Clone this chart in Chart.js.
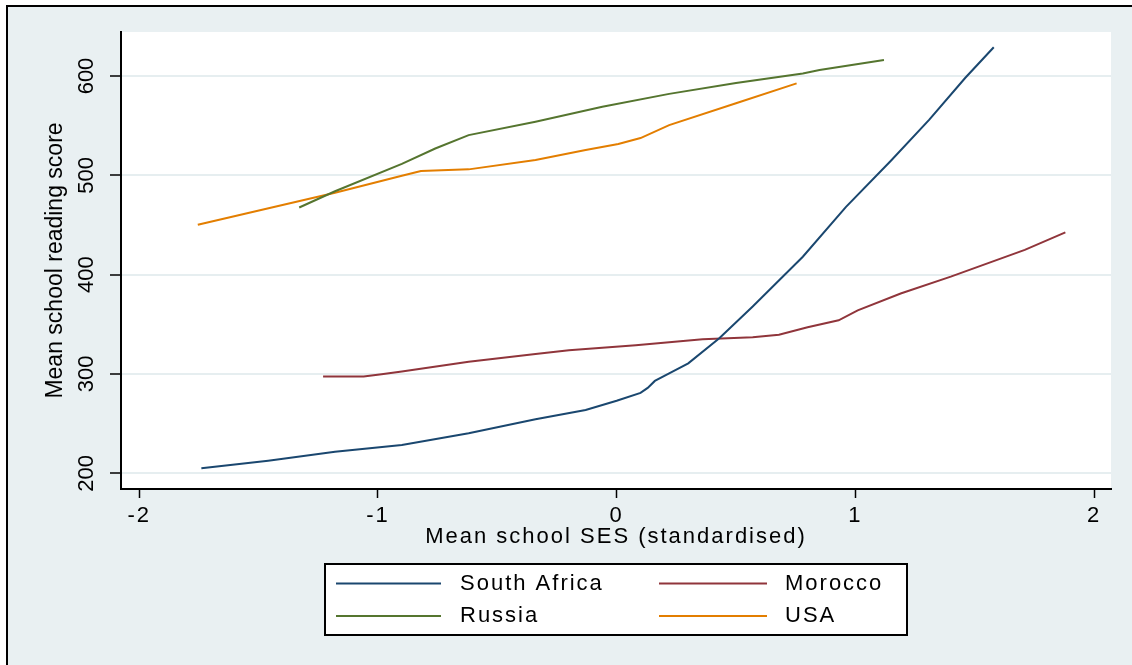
<!DOCTYPE html>
<html>
<head>
<meta charset="utf-8">
<title>Mean school reading score by mean school SES</title>
<script src="https://cdn.jsdelivr.net/npm/chart.js@4.4.1/dist/chart.umd.min.js"></script>
<style>
  html, body { margin: 0; padding: 0; background: #ffffff; }
  #wrap { width: 1132px; height: 665px; }
</style>
</head>
<body>
<div id="wrap"><canvas id="chart" width="1132" height="665"></canvas></div>
<script>
// Smoothed curves: mean school SES (x) against mean school reading score (y)
const seriesNames = ['South Africa', 'Morocco', 'Russia', 'USA'];

const southAfricaX = [-1.74, -1.46, -1.18, -0.90, -0.62, -0.34, -0.13, 0.00, 0.10, 0.13, 0.16, 0.22, 0.30, 0.43, 0.57, 0.78, 0.96, 1.15, 1.31, 1.46, 1.58];
const southAfricaY = [205, 212.7, 221.7, 228.5, 240.3, 254.4, 263.7, 273, 281, 286, 293, 300.7, 310.7, 336, 368, 418, 468, 515, 556, 598, 629];

const moroccoX = [-1.23, -1.06, -0.985, -0.90, -0.62, -0.34, -0.20, 0.08, 0.36, 0.57, 0.68, 0.80, 0.93, 1.01, 1.19, 1.40, 1.71, 1.88];
const moroccoY = [297.5, 297.5, 299.7, 302.5, 312.4, 320, 324, 329, 335, 337, 339.5, 347, 354, 364, 381, 398, 425, 442.6];

const russiaX = [-1.33, -1.18, -0.90, -0.76, -0.62, -0.34, -0.06, 0.22, 0.50, 0.78, 0.85, 1.12];
const russiaY = [467.6, 484, 511.5, 527, 540.5, 554, 569, 582, 593, 602.5, 606, 616];

const usaX = [-1.755, -1.18, -0.90, -0.82, -0.62, -0.34, -0.13, 0.007, 0.10, 0.22, 0.50, 0.754];
const usaY = [450.3, 482.5, 499.5, 504.3, 506, 515.4, 525.5, 531.5, 537.5, 550.6, 572.5, 592.6];

const xTickValues = [-2, -1, 0, 1, 2];
const xTickLabels = ['-2', '-1', '0', '1', '2'];
const yTickValues = [200, 300, 400, 500, 600];
const yTickLabels = ['200', '300', '400', '500', '600'];

const seriesColors = ['#1a476f', '#90353b', '#55752f', '#e37e00'];

const toPoints = (xs, ys) => xs.map((x, i) => ({ x: x, y: ys[i] }));
const seriesData = [
  toPoints(southAfricaX, southAfricaY),
  toPoints(moroccoX, moroccoY),
  toPoints(russiaX, russiaY),
  toPoints(usaX, usaY)
];

const FONT = '"Liberation Sans", Arial, Helvetica, sans-serif';
Chart.defaults.font.family = FONT;
Chart.defaults.color = '#000';

// Linear scale whose horizontal labels and title are drawn with wider tracking
const LinearScale = Chart.registry.getScale('linear');
class SpacedLinearScale extends LinearScale {
  withSpacing(fn) {
    const ctx = this.ctx;
    const prev = ctx.letterSpacing;
    ctx.letterSpacing = '2px';
    fn();
    ctx.letterSpacing = prev === undefined ? '0px' : prev;
  }
  drawLabels(area) { this.withSpacing(() => super.drawLabels(area)); }
  drawTitle() { this.withSpacing(() => super.drawTitle()); }
}
SpacedLinearScale.id = 'spacedLinear';
SpacedLinearScale.defaults = LinearScale.defaults;
Chart.register(SpacedLinearScale);

// Figure background, frame edge and white plot region
const backdrop = {
  id: 'backdrop',
  beforeDraw(chart) {
    const { ctx, width, height, chartArea: a } = chart;
    ctx.save();
    ctx.fillStyle = '#ffffff';
    ctx.fillRect(0, 0, width, height);
    ctx.fillStyle = '#e9f0f2';
    ctx.fillRect(7, 6, width - 7, height - 6);
    ctx.fillStyle = '#000000';
    ctx.fillRect(6, 5, width - 6, 2);
    ctx.fillRect(6, 5, 2, height - 5);
    ctx.fillStyle = '#ffffff';
    ctx.fillRect(a.left, a.top, a.right - a.left, a.bottom - a.top);
    ctx.restore();
  }
};

// Boxed two-column legend under the x axis title
const boxedLegend = {
  id: 'boxedLegend',
  afterDraw(chart) {
    const ctx = chart.ctx;
    const box = { x: 325, y: 564, w: 582, h: 71 };
    const rows = [583.5, 616];
    const cols = [
      { x0: 336, x1: 441, tx: 460 },
      { x0: 659, x1: 767, tx: 785 }
    ];
    ctx.save();
    ctx.fillStyle = '#ffffff';
    ctx.fillRect(box.x, box.y, box.w, box.h);
    ctx.strokeStyle = '#000000';
    ctx.lineWidth = 2;
    ctx.strokeRect(box.x, box.y, box.w, box.h);
    ctx.font = '22px ' + FONT;
    ctx.textBaseline = 'middle';
    ctx.textAlign = 'left';
    ctx.letterSpacing = '2px';
    chart.data.datasets.forEach((ds, i) => {
      const c = cols[i % 2];
      const y = rows[Math.floor(i / 2)];
      ctx.strokeStyle = ds.borderColor;
      ctx.lineWidth = 2;
      ctx.beginPath();
      ctx.moveTo(c.x0, y);
      ctx.lineTo(c.x1, y);
      ctx.stroke();
      ctx.fillStyle = '#000000';
      ctx.fillText(ds.label, c.tx, y);
    });
    ctx.restore();
  }
};

new Chart(document.getElementById('chart'), {
  type: 'scatter',
  data: {
    datasets: seriesNames.map((name, i) => ({
      label: name,
      data: seriesData[i],
      borderColor: seriesColors[i],
      backgroundColor: seriesColors[i],
      showLine: true,
      borderWidth: 2,
      pointRadius: 0,
      tension: 0
    }))
  },
  options: {
    responsive: false,
    animation: false,
    devicePixelRatio: 1,
    layout: { padding: { left: 0, right: 21, top: 32, bottom: 96 } },
    plugins: {
      legend: { display: false },
      tooltip: { enabled: false }
    },
    scales: {
      x: {
        type: 'spacedLinear',
        min: -2.0767,
        max: 2.0712,
        afterBuildTicks: s => { s.ticks = xTickValues.map(v => ({ value: v })); },
        afterFit: s => { s.height = 80; },
        grid: { drawOnChartArea: false, tickLength: 9, tickColor: '#000', tickWidth: 1.5 },
        border: { color: '#000', width: 2 },
        ticks: {
          font: { size: 22 },
          color: '#000',
          padding: 5,
          minRotation: 0,
          maxRotation: 0,
          callback: (v, i) => xTickLabels[i]
        },
        title: {
          display: true,
          text: 'Mean school SES (standardised)',
          font: { size: 22 },
          color: '#000',
          padding: { top: 0, bottom: 18.5 }
        }
      },
      y: {
        type: 'linear',
        min: 184.2,
        max: 644.3,
        afterBuildTicks: s => { s.ticks = yTickValues.map(v => ({ value: v })); },
        afterFit: s => { s.width = 121; },
        grid: { color: '#e6eef0', lineWidth: 2, tickLength: 11, tickColor: '#000', tickWidth: 1.5 },
        border: { color: '#000', width: 2 },
        ticks: {
          font: { size: 22 },
          color: '#000',
          padding: 5,
          minRotation: 90,
          maxRotation: 90,
          crossAlign: 'center',
          callback: (v, i) => yTickLabels[i]
        },
        title: {
          display: true,
          text: 'Mean school reading score',
          font: { size: 23 },
          color: '#000',
          padding: { top: 41.5, bottom: 0 }
        }
      }
    }
  },
  plugins: [backdrop, boxedLegend]
});
</script>
</body>
</html>
